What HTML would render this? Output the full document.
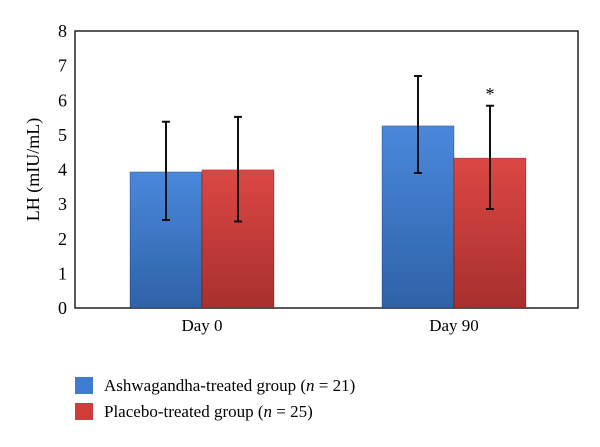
<!DOCTYPE html>
<html><head><meta charset="utf-8"><style>
body{margin:0;background:#fff}
svg{display:block;font-family:"Liberation Serif",serif}
</style></head><body>
<svg width="600" height="447" viewBox="0 0 600 447">
<defs>
<linearGradient id="gb" x1="0" y1="0" x2="0" y2="1"><stop offset="0" stop-color="#4a88dc"/><stop offset="1" stop-color="#2f62a8"/></linearGradient>
<linearGradient id="gr" x1="0" y1="0" x2="0" y2="1"><stop offset="0" stop-color="#dc4744"/><stop offset="1" stop-color="#a8302e"/></linearGradient>
</defs>
<g id="plot"></g>
<g>
<rect x="75" y="377" width="18" height="17" fill="#3f7bd0"/>
<text x="104" y="391" font-size="17">Ashwagandha-treated group (<tspan font-style="italic">n</tspan> = 21)</text>
<rect x="75" y="403" width="18" height="17" fill="#d03c3a"/>
<text x="104" y="417" font-size="17">Placebo-treated group (<tspan font-style="italic">n</tspan> = 25)</text>
</g>
</svg>
<script>
const categories = ["Day 0", "Day 90"];
const ashwagandha = [3.93, 5.26];
const ashErrHi = [5.38, 6.70];
const ashErrLo = [2.54, 3.90];
const placebo = [3.99, 4.33];
const plaErrHi = [5.52, 5.84];
const plaErrLo = [2.50, 2.86];
const yTicks = [0,1,2,3,4,5,6,7,8];
const sig = ["", "*"];

const NS="http://www.w3.org/2000/svg";
const g=document.getElementById('plot');
const L=75,R=578,T=31,B=308;
const y=v=>B-(v/8)*(B-T);
const groupCenters=[202,454], bw=72;
function mk(tag,attrs,parent){const e=document.createElementNS(NS,tag);for(const k in attrs)e.setAttribute(k,attrs[k]);(parent||g).appendChild(e);return e;}
const frame=mk('rect',{x:L,y:T,width:R-L,height:B-T,fill:'none',stroke:'#222','stroke-width':1.5});


yTicks.forEach(t=>{const tx=mk('text',{x:L-8,y:y(t)+6,'font-size':18,'text-anchor':'end'});tx.textContent=t;

});
const yt=mk('text',{x:0,y:0,'font-size':18,'text-anchor':'middle',transform:`translate(39,${(T+B)/2}) rotate(-90)`});yt.textContent='LH (mIU/mL)';


function bar(x,v,hi,lo,fill,name){
 const r=mk('rect',{x:x,y:y(v),width:bw,height:B-y(v),fill:fill,stroke:'rgba(0,0,0,0.25)','stroke-width':1});
 
 
 const cx=x+bw/2;
 const e=mk('path',{d:`M${cx},${y(hi)}V${y(lo)}M${cx-4},${y(hi)}H${cx+4}M${cx-4},${y(lo)}H${cx+4}`,stroke:'#111','stroke-width':2,fill:'none'});
 
 
}
categories.forEach((c,i)=>{
 const gc=groupCenters[i];
 bar(gc-bw,ashwagandha[i],ashErrHi[i],ashErrLo[i],'url(#gb)','bar-ashwagandha-'+i);
 bar(gc,placebo[i],plaErrHi[i],plaErrLo[i],'url(#gr)','bar-placebo-'+i);
 const t=mk('text',{x:gc,y:331,'font-size':17,'text-anchor':'middle'});t.textContent=c;
 
 
 if(sig[i]){const s=mk('text',{x:gc+bw/2,y:y(plaErrHi[i])-6,'font-size':18,'text-anchor':'middle'});s.textContent=sig[i];
 
 }
});
</script>
</body></html>
